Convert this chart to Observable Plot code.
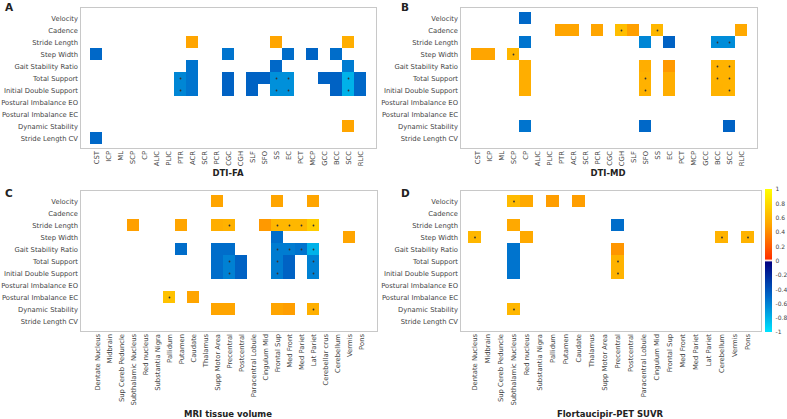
<!DOCTYPE html>
<html><head><meta charset="utf-8">
<script src="https://cdn.jsdelivr.net/npm/d3@7"></script>
<script src="https://cdn.jsdelivr.net/npm/@observablehq/plot@0.6"></script>
<style>
body{margin:0;background:#fff;}
#wrap{position:relative;width:787px;height:419px;overflow:hidden;font-family:"DejaVu Sans",sans-serif;background:#fff;}
#wrap > svg{position:absolute;}
</style></head><body><div id="wrap"></div>
<script>
const gaitMeasures = ["Velocity","Cadence","Stride Length","Step Width","Gait Stability Ratio","Total Support","Initial Double Support","Postural Imbalance EO","Postural Imbalance EC","Dynamic Stability","Stride Length CV"];
const dtiTracts = ["CST","ICP","ML","SCP","CP","ALIC","PLIC","PTR","ACR","SCR","PCR","CGC","CGH","SLF","SFO","SS","EC","PCT","MCP","GCC","BCC","SCC","RLIC"];
const mriRegions = ["Dentate Nucleus","Midbrain","Sup Cereb Peduncle","Subthalamic Nucleus","Red nucleus","Substantia Nigra","Pallidum","Putamen","Caudate","Thalamus","Supp Motor Area","Precentral","Postcentral","Paracentral Lobule","Cingulum Mid","Frontal Sup","Med Front","Med Pariet","Lat Pariet","Cerebellar crus","Cerebellum","Vermis","Pons"];
const petRegions = ["Dentate Nucleus","Midbrain","Sup Cereb Peduncle","Subthalamic Nucleus","Red nucleus","Substantia Nigra","Pallidum","Putamen","Caudate","Thalamus","Supp Motor Area","Precentral","Postcentral","Paracentral Lobule","Cingulum Mid","Frontal Sup","Med Front","Med Pariet","Lat Pariet","Cerebellum","Vermis","Pons"];

// [gait measure, region, correlation, significant]
const faCells = [
  ["Stride Length","ACR",0.5,0],["Stride Length","SS",0.5,0],["Stride Length","SCC",0.55,0],
  ["Step Width","CST",-0.5,0],["Step Width","CGC",-0.55,0],["Step Width","EC",-0.52,0],["Step Width","MCP",-0.48,0],["Step Width","BCC",-0.52,0],
  ["Gait Stability Ratio","ACR",-0.55,0],["Gait Stability Ratio","SS",-0.5,0],["Gait Stability Ratio","SCC",-0.58,0],
  ["Total Support","PTR",-0.62,1],["Total Support","ACR",-0.55,0],["Total Support","CGC",-0.47,0],["Total Support","SLF",-0.47,0],["Total Support","SFO",-0.47,0],["Total Support","SS",-0.66,1],["Total Support","EC",-0.66,1],["Total Support","GCC",-0.47,0],["Total Support","BCC",-0.47,0],["Total Support","SCC",-0.8,1],["Total Support","RLIC",-0.5,0],
  ["Initial Double Support","PTR",-0.62,1],["Initial Double Support","ACR",-0.55,0],["Initial Double Support","CGC",-0.47,0],["Initial Double Support","SLF",-0.47,0],["Initial Double Support","SS",-0.66,1],["Initial Double Support","EC",-0.66,1],["Initial Double Support","BCC",-0.47,0],["Initial Double Support","SCC",-0.8,1],["Initial Double Support","RLIC",-0.5,0],
  ["Dynamic Stability","SCC",0.5,0],
  ["Stride Length CV","CST",-0.5,0]
];
const mdCells = [
  ["Velocity","CP",-0.5,0],
  ["Cadence","PTR",0.5,0],["Cadence","ACR",0.5,0],["Cadence","PCR",0.5,0],["Cadence","CGH",0.64,1],["Cadence","SLF",0.48,0],["Cadence","SS",0.6,1],["Cadence","RLIC",0.52,0],
  ["Stride Length","CP",-0.55,0],["Stride Length","SFO",-0.62,0],["Stride Length","EC",-0.47,0],["Stride Length","BCC",-0.65,1],["Stride Length","SCC",-0.65,1],
  ["Step Width","CST",0.5,0],["Step Width","ICP",0.5,0],["Step Width","SCP",0.6,1],
  ["Gait Stability Ratio","CP",0.55,0],["Gait Stability Ratio","SFO",0.55,0],["Gait Stability Ratio","EC",0.45,0],["Gait Stability Ratio","BCC",0.58,1],["Gait Stability Ratio","SCC",0.58,1],
  ["Total Support","CP",0.55,0],["Total Support","SFO",0.57,1],["Total Support","EC",0.55,0],["Total Support","BCC",0.58,1],["Total Support","SCC",0.58,1],
  ["Initial Double Support","CP",0.55,0],["Initial Double Support","SFO",0.57,1],["Initial Double Support","EC",0.55,0],["Initial Double Support","BCC",0.57,0],["Initial Double Support","SCC",0.58,1],
  ["Dynamic Stability","CP",-0.55,0],["Dynamic Stability","SFO",-0.5,0],["Dynamic Stability","SCC",-0.47,0]
];
const mriCells = [
  ["Velocity","Supp Motor Area",0.5,0],["Velocity","Frontal Sup",0.5,0],["Velocity","Lat Pariet",0.5,0],
  ["Stride Length","Subthalamic Nucleus",0.48,0],["Stride Length","Putamen",0.5,0],["Stride Length","Supp Motor Area",0.55,0],["Stride Length","Precentral",0.57,1],["Stride Length","Cingulum Mid",0.45,0],["Stride Length","Frontal Sup",0.6,1],["Stride Length","Med Front",0.6,1],["Stride Length","Med Pariet",0.6,1],["Stride Length","Lat Pariet",0.72,1],
  ["Step Width","Frontal Sup",-0.52,0],["Step Width","Vermis",0.5,0],
  ["Gait Stability Ratio","Putamen",-0.52,0],["Gait Stability Ratio","Supp Motor Area",-0.52,0],["Gait Stability Ratio","Precentral",-0.52,0],["Gait Stability Ratio","Frontal Sup",-0.58,1],["Gait Stability Ratio","Med Front",-0.58,1],["Gait Stability Ratio","Med Pariet",-0.55,1],["Gait Stability Ratio","Lat Pariet",-0.8,1],
  ["Total Support","Supp Motor Area",-0.52,0],["Total Support","Precentral",-0.6,1],["Total Support","Postcentral",-0.47,0],["Total Support","Frontal Sup",-0.58,1],["Total Support","Med Front",-0.47,0],["Total Support","Lat Pariet",-0.6,1],
  ["Initial Double Support","Supp Motor Area",-0.52,0],["Initial Double Support","Precentral",-0.6,1],["Initial Double Support","Postcentral",-0.47,0],["Initial Double Support","Frontal Sup",-0.58,1],["Initial Double Support","Med Front",-0.47,0],["Initial Double Support","Lat Pariet",-0.6,1],
  ["Postural Imbalance EC","Pallidum",0.66,1],["Postural Imbalance EC","Caudate",0.5,0],
  ["Dynamic Stability","Supp Motor Area",0.5,0],["Dynamic Stability","Precentral",0.5,0],["Dynamic Stability","Frontal Sup",0.5,0],["Dynamic Stability","Med Front",0.47,0],["Dynamic Stability","Lat Pariet",0.56,1]
];
const petCells = [
  ["Velocity","Subthalamic Nucleus",0.62,1],["Velocity","Red nucleus",0.52,0],["Velocity","Pallidum",0.47,0],["Velocity","Caudate",0.47,0],
  ["Stride Length","Subthalamic Nucleus",0.52,0],["Stride Length","Precentral",-0.52,0],
  ["Step Width","Dentate Nucleus",0.6,1],["Step Width","Red nucleus",0.52,0],["Step Width","Cerebellum",0.58,1],["Step Width","Pons",0.58,1],
  ["Gait Stability Ratio","Subthalamic Nucleus",-0.55,0],["Gait Stability Ratio","Precentral",0.44,0],
  ["Total Support","Subthalamic Nucleus",-0.55,0],["Total Support","Precentral",0.58,1],
  ["Initial Double Support","Subthalamic Nucleus",-0.55,0],["Initial Double Support","Precentral",0.58,1],
  ["Dynamic Stability","Subthalamic Nucleus",0.6,1]
];
const colorbarTicks = [1,0.8,0.6,0.4,0.2,0,-0.2,-0.4,-0.6,-0.8,-1];

const colorScale = {
  type: "linear",
  domain: [-1, -0.5, -0.02, 0, 0.02, 0.5, 1],
  range: ["#00e4ff", "#0068c8", "#000080", "#ffffff", "#ff3000", "#ffa500", "#ffff00"],
  interpolate: "rgb",
  clamp: true
};

const wrap = document.getElementById("wrap");

function heat({cells, columns, left, top, width, height, ml, mr, mt, mb}) {
  const data = cells.map(([row, col, v, s]) => ({row, col, v, s}));
  const p = Plot.plot({
    width, height, marginLeft: ml, marginRight: mr, marginTop: mt, marginBottom: mb,
    style: {fontFamily: "DejaVu Sans", fontSize: "6.8px", color: "#444", background: "transparent", overflow: "visible"},
    x: {domain: columns, padding: 0, label: null, tickRotate: -90, tickSize: 0, tickPadding: 2.5},
    y: {domain: gaitMeasures, padding: 0, label: null, tickSize: 0, tickPadding: 2.5},
    color: colorScale,
    marks: [
      Plot.cell(data, {x: "col", y: "row", fill: "v", inset: 0, shapeRendering: "crispEdges"}),
      Plot.dot(data.filter(d => d.s), {x: "col", y: "row", r: 0.9, fill: "#333"}),
      Plot.frame({stroke: "#c8c8c8"})
    ]
  });
  p.style.position = "absolute";
  p.style.left = left + "px";
  p.style.top = top + "px";
  wrap.appendChild(p);
}

heat({cells: faCells, columns: dtiTracts, left: 0, top: 0, width: 390, height: 185, ml: 80, mr: 14, mt: 7, mb: 37});
heat({cells: mdCells, columns: dtiTracts, left: 375, top: 0, width: 390, height: 185, ml: 85, mr: 8, mt: 7, mb: 37});
heat({cells: mriCells, columns: mriRegions, left: 0, top: 185, width: 390, height: 234, ml: 80, mr: 13, mt: 5, mb: 88});
heat({cells: petCells, columns: petRegions, left: 375, top: 185, width: 390, height: 234, ml: 85, mr: 4, mt: 5, mb: 88});

// colour bar
const cbStep = 0.005;
const cbSteps = d3.range(-1, 1, cbStep);
const cb = Plot.plot({
  width: 32, height: 160, marginLeft: 10, marginRight: 15, marginTop: 9, marginBottom: 8,
  style: {fontFamily: "DejaVu Sans", fontSize: "6px", color: "#444", background: "transparent", overflow: "visible"},
  x: {domain: [0, 1], axis: null},
  y: {domain: [-1, 1], axis: "right", ticks: colorbarTicks, tickFormat: d => String(d), tickSize: 0, tickPadding: 3, label: null},
  color: colorScale,
  marks: [
    Plot.rect(cbSteps, {x1: 0, x2: 1, y1: d => d, y2: d => d + cbStep, fill: d => d + cbStep / 2, shapeRendering: "crispEdges"})
  ]
});
cb.style.position = "absolute";
cb.style.left = "755px";
cb.style.top = "180px";
wrap.appendChild(cb);

// text overlay
const ov = d3.select(wrap).append("svg")
  .attr("width", 787).attr("height", 419)
  .style("left", "0px").style("top", "0px").style("pointer-events", "none")
  .style("font-family", "DejaVu Sans");
const letters = [["A", 5, 11], ["B", 401, 11], ["C", 5, 197], ["D", 401, 197]];
letters.forEach(([t, x, y]) => ov.append("text").attr("x", x).attr("y", y).attr("font-size", 10.5).attr("font-weight", "bold").attr("fill", "#222").text(t));
const titles = [["DTI-FA", 228, 176], ["DTI-MD", 608, 176], ["MRI tissue volume", 228, 417], ["Flortaucipir-PET SUVR", 610, 417]];
titles.forEach(([t, x, y]) => ov.append("text").attr("x", x).attr("y", y).attr("text-anchor", "middle").attr("font-size", 8.5).attr("font-weight", "bold").attr("fill", "#222").text(t));
</script></body></html>
